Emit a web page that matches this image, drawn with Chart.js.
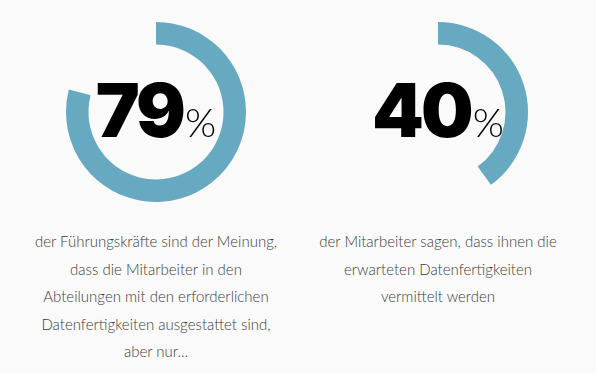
<!DOCTYPE html>
<html>
<head>
<meta charset="utf-8">
<script src="https://cdn.jsdelivr.net/npm/chart.js@4"></script>
<style>
    html, body { margin: 0; padding: 0; }
    body { width: 596px; height: 373px; background: #fafafa; position: relative; overflow: hidden; font-family: "Lato", sans-serif; }
    .ring { position: absolute; top: 12px; width: 200px; height: 200px; }
    .big { position: absolute; top: 70px; width: 240px; text-align: center; white-space: nowrap; color: #000; }
    .big .num { font-family: "Inter", sans-serif; font-weight: 900; font-size: 74px; letter-spacing: -3px; line-height: 80px; }
    .big .pct { font-family: "Lato", sans-serif; font-weight: 300; font-size: 40px; margin-left: 2px; }
    .caption { position: absolute; top: 228px; width: 300px; text-align: center; color: #3c3c3c; font-weight: 300; font-size: 15px; line-height: 27.5px; }
</style>
</head>
<body>
<canvas id="ring0" class="ring" width="200" height="200" style="left:56px"></canvas>
<canvas id="ring1" class="ring" width="200" height="200" style="left:338px"></canvas>
<div id="big0" class="big" style="left:36px"></div>
<div id="big1" class="big" style="left:318px"></div>
<div id="cap0" class="caption" style="left:6px"></div>
<div id="cap1" class="caption" style="left:288px"></div>
<script>
// ----------------- Data -----------------
const percentValues = [79, 40];
const captionLines = [
    ['der Führungskräfte sind der Meinung,', 'dass die Mitarbeiter in den', 'Abteilungen mit den erforderlichen', 'Datenfertigkeiten ausgestattet sind,', 'aber nur...'],
    ['der Mitarbeiter sagen, dass ihnen die', 'erwarteten Datenfertigkeiten', 'vermittelt werden']
];
const ringColor = '#67a9c0';

// ----------------- Rings -----------------
percentValues.forEach((value, i) => {
    new Chart(document.getElementById('ring' + i).getContext('2d'), {
        type: 'doughnut',
        data: {
            labels: ['Anteil', 'Rest'],
            datasets: [{
                data: [value, 100 - value],
                backgroundColor: [ringColor, 'rgba(0,0,0,0)'],
                borderWidth: 0
            }]
        },
        options: {
            responsive: false,
            animation: false,
            radius: 90,
            cutout: 75,
            plugins: { legend: { display: false }, tooltip: { enabled: false } }
        }
    });

    document.getElementById('big' + i).innerHTML =
        '<span class="num">' + value + '</span><span class="pct">%</span>';
    document.getElementById('cap' + i).innerHTML = captionLines[i].join('<br>');
});
</script>
</body>
</html>
